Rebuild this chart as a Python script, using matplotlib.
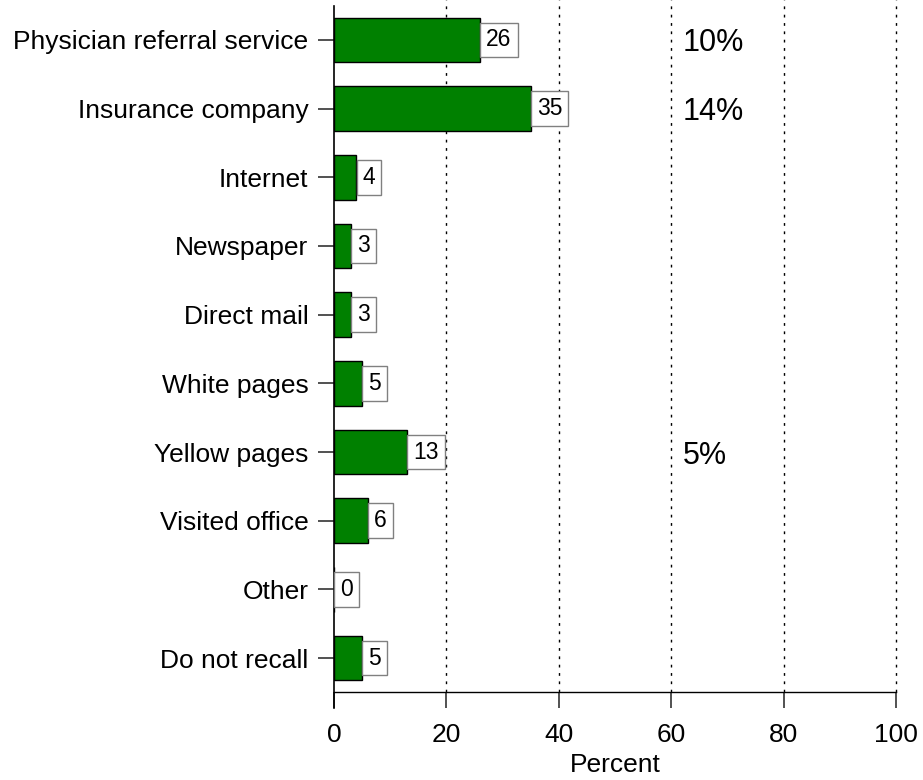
import matplotlib
matplotlib.use('Agg')
import matplotlib.pyplot as plt

# ── Data ─────────────────────────────────────────────────────
CATEGORIES = ["Physician referral service", "Insurance company", "Internet",
              "Newspaper", "Direct mail", "White pages", "Yellow pages",
              "Visited office", "Other", "Do not recall"]
PERCENT = [26, 35, 4, 3, 3, 5, 13, 6, 0, 5]
NOTE_ROWS = [0, 1, 6]
NOTE_TEXT = ["10%", "14%", "5%"]
NOTE_X = 62
XTICKS = [0, 20, 40, 60, 80, 100]

# ── Plot ─────────────────────────────────────────────────────
plt.rcParams.update({'font.family': ['Liberation Sans', 'DejaVu Sans']})
W, H = 923, 780
fig = plt.figure(figsize=(W / 100, H / 100), dpi=100)

# axes box in pixels: x 334..896, y 6..708
ax = fig.add_axes([334 / W, 1 - 708 / H, (896 - 334) / W, (708 - 6) / H])

# spines first (set_position resets the axis ticks)
for s in ['top', 'right']:
    ax.spines[s].set_visible(False)
ax.spines['bottom'].set_position(('axes', (708 - 692) / (708 - 6)))
ax.spines['left'].set_linewidth(1.2)
ax.spines['bottom'].set_linewidth(1)

ypos = list(range(len(CATEGORIES)))
ax.barh(ypos, PERCENT, height=0.65, color='#008000', edgecolor='black', lw=1, zorder=3)

for y, v in zip(ypos, PERCENT):
    ax.annotate(str(v), (v, y), xytext=(4.4, 0), textcoords='offset points',
                ha='left', va='center', fontsize=16.5, zorder=4,
                bbox=dict(boxstyle='square,pad=0.26', fc='white', ec='#808080', lw=1))

for r, t in zip(NOTE_ROWS, NOTE_TEXT):
    ax.text(NOTE_X, ypos[r], t, ha='left', va='center_baseline', fontsize=22)

# dotted reference lines, from the x-axis line up to the top edge
spacing = 68.67
y_axisline = 9 + (692 - 658) / spacing
y_top = -(40 - 0) / spacing
ax.vlines(XTICKS[1:], y_axisline, y_top, colors='black', linestyles=(0, (2, 4)),
          lw=1, clip_on=False, zorder=1)

ax.set_ylim(9 + (708 - 658) / spacing, -(40 - 6) / spacing)
ax.set_xlim(0, 100)
ax.spines['bottom'].set_bounds(0, 100)

ax.set_yticks(ypos)
ax.set_yticklabels(CATEGORIES, fontsize=19)
ax.set_xticks(XTICKS)
ax.set_xticklabels([str(t) for t in XTICKS], fontsize=19)
ax.tick_params(axis='both', direction='out', length=11.5, width=1.2, color='#333', pad=7)
ax.tick_params(axis='x', pad=11)
ax.set_xlabel('Percent', fontsize=19, labelpad=4)

fig.savefig('out.png', dpi=100, facecolor='white')
